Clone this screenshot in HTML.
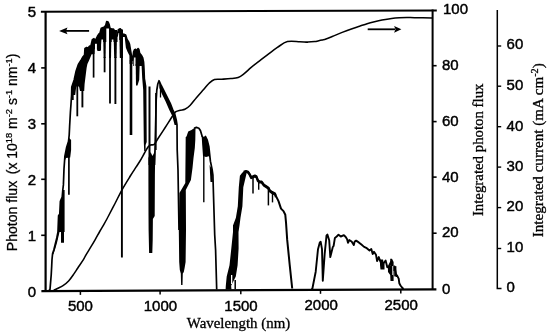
<!DOCTYPE html>
<html><head><meta charset="utf-8"><style>
html,body{margin:0;padding:0;background:#fff;width:550px;height:334px;overflow:hidden}
svg{display:block}
</style></head><body>
<svg width="550" height="334" viewBox="0 0 550 334">
<rect width="550" height="334" fill="#fff"/>
<g stroke="#000" fill="none">
<path d="M40.9,11.7 L436.8,10.4" stroke-width="2"/>
<path d="M45.6,11.7 L45.6,291.9" stroke-width="2.2"/>
<path d="M41.4,291.1 L436.4,289.3" stroke-width="2.2"/>
<path d="M432.6,9.6 L432.6,290.1" stroke-width="2"/>
<path d="M41.2,67.9 L45.6,67.9" stroke-width="1.6"/>
<path d="M41.2,123.8 L45.6,123.8" stroke-width="1.6"/>
<path d="M41.2,179.3 L45.6,179.3" stroke-width="1.6"/>
<path d="M41.2,235.3 L45.6,235.3" stroke-width="1.6"/>
<path d="M80.4,290.9 L80.4,294.9" stroke-width="1.5"/>
<path d="M160.1,290.6 L160.1,294.6" stroke-width="1.5"/>
<path d="M240.8,290.2 L240.8,294.2" stroke-width="1.5"/>
<path d="M320.5,289.8 L320.5,293.8" stroke-width="1.5"/>
<path d="M400.8,289.4 L400.8,293.4" stroke-width="1.5"/>
<path d="M432.6,65.7 L436.6,65.7" stroke-width="1.6"/>
<path d="M432.6,121.6 L436.6,121.6" stroke-width="1.6"/>
<path d="M432.6,177.1 L436.6,177.1" stroke-width="1.6"/>
<path d="M432.6,233.2 L436.6,233.2" stroke-width="1.6"/>
<path d="M497.3,9.9 L497.3,288.6 L501.5,288.6" stroke-width="1.5"/>
<path d="M497.3,46 L501.2,46" stroke-width="1.4"/>
<path d="M497.3,86.2 L501.2,86.2" stroke-width="1.4"/>
<path d="M497.3,126.7 L501.2,126.7" stroke-width="1.4"/>
<path d="M497.3,167.1 L501.2,167.1" stroke-width="1.4"/>
<path d="M497.3,207.6 L501.2,207.6" stroke-width="1.4"/>
<path d="M497.3,248.5 L501.2,248.5" stroke-width="1.4"/>
</g>
<g font-family="Liberation Sans, Arial, sans-serif" font-size="15.4" fill="#000" stroke="#000" stroke-width="0.45">
<text x="36.2" y="17.4" text-anchor="end" textLength="8.35" lengthAdjust="spacingAndGlyphs">5</text>
<text x="36.2" y="73.3" text-anchor="end" textLength="8.35" lengthAdjust="spacingAndGlyphs">4</text>
<text x="36.2" y="129.2" text-anchor="end" textLength="8.35" lengthAdjust="spacingAndGlyphs">3</text>
<text x="36.2" y="184.7" text-anchor="end" textLength="8.35" lengthAdjust="spacingAndGlyphs">2</text>
<text x="36.2" y="240.7" text-anchor="end" textLength="8.35" lengthAdjust="spacingAndGlyphs">1</text>
<text x="36.2" y="296.9" text-anchor="end" textLength="8.35" lengthAdjust="spacingAndGlyphs">0</text>
<text x="80.4" y="311.40" text-anchor="middle" textLength="25.05" lengthAdjust="spacingAndGlyphs">500</text>
<text x="160.4" y="310.95" text-anchor="middle" textLength="33.40" lengthAdjust="spacingAndGlyphs">1000</text>
<text x="241.0" y="310.50" text-anchor="middle" textLength="33.40" lengthAdjust="spacingAndGlyphs">1500</text>
<text x="321.2" y="310.05" text-anchor="middle" textLength="33.40" lengthAdjust="spacingAndGlyphs">2000</text>
<text x="401.2" y="309.60" text-anchor="middle" textLength="33.40" lengthAdjust="spacingAndGlyphs">2500</text>
<text x="443.0" y="14.0" textLength="25.05" lengthAdjust="spacingAndGlyphs">100</text>
<text x="442.0" y="70.0" textLength="16.70" lengthAdjust="spacingAndGlyphs">80</text>
<text x="442.0" y="125.6" textLength="16.70" lengthAdjust="spacingAndGlyphs">60</text>
<text x="442.0" y="181.6" textLength="16.70" lengthAdjust="spacingAndGlyphs">40</text>
<text x="442.0" y="237.4" textLength="16.70" lengthAdjust="spacingAndGlyphs">20</text>
<text x="442.0" y="294.4" textLength="8.35" lengthAdjust="spacingAndGlyphs">0</text>
<text x="506.6" y="49.2" textLength="16.70" lengthAdjust="spacingAndGlyphs">60</text>
<text x="506.6" y="89.8" textLength="16.70" lengthAdjust="spacingAndGlyphs">50</text>
<text x="506.6" y="130.6" textLength="16.70" lengthAdjust="spacingAndGlyphs">40</text>
<text x="506.6" y="170.8" textLength="16.70" lengthAdjust="spacingAndGlyphs">30</text>
<text x="506.6" y="211.2" textLength="16.70" lengthAdjust="spacingAndGlyphs">20</text>
<text x="506.6" y="251.7" textLength="16.70" lengthAdjust="spacingAndGlyphs">10</text>
<text x="506.6" y="291.8" textLength="8.35" lengthAdjust="spacingAndGlyphs">0</text>
</g>
<text transform="translate(17.0,251.2) rotate(-90)" font-family="Liberation Sans, Arial, sans-serif" font-size="14.2" fill="#000" stroke="#000" stroke-width="0.25" textLength="70.4" lengthAdjust="spacingAndGlyphs">Photon flux</text>
<text transform="translate(17.0,174.2) rotate(-90)" font-family="Liberation Sans, Arial, sans-serif" font-size="14.2" fill="#000" stroke="#000" stroke-width="0.25" textLength="120.6" lengthAdjust="spacingAndGlyphs">(x 10<tspan font-size="9.5" dy="-5.5">18</tspan><tspan dy="5.5"> m</tspan><tspan font-size="9.5" dy="-5.5">-2</tspan><tspan dy="5.5"> s</tspan><tspan font-size="9.5" dy="-5.5">-1</tspan><tspan dy="5.5"> nm</tspan><tspan font-size="9.5" dy="-5.5">-1</tspan><tspan dy="5.5">)</tspan></text>
<text transform="translate(482.6,216.1) rotate(-90)" font-family="Liberation Serif, Times New Roman, serif" font-size="14" fill="#000" stroke="#000" stroke-width="0.3" textLength="132.6" lengthAdjust="spacingAndGlyphs">Integrated photon flux</text>
<text transform="translate(543.3,237.2) rotate(-90)" font-family="Liberation Serif, Times New Roman, serif" font-size="14" fill="#000" stroke="#000" stroke-width="0.3" textLength="173.9" lengthAdjust="spacingAndGlyphs">Integrated current (mA cm<tspan font-size="9.5" dy="-5.5">-2</tspan><tspan dy="5.5">)</tspan></text>
<text x="186.8" y="328.0" font-family="Liberation Serif, Times New Roman, serif" font-size="14.1" fill="#000" stroke="#000" stroke-width="0.3" textLength="103.4" lengthAdjust="spacingAndGlyphs">Wavelength (nm)</text>
<path d="M66,30.9 L89.1,30.9" stroke="#000" stroke-width="1.8"/>
<path d="M59.1,30.9 L67.5,27.6 L66,30.9 L67.5,34.2 Z" fill="#000"/>
<path d="M367.7,29.3 L395,29.3" stroke="#000" stroke-width="1.8"/>
<path d="M401.4,29.3 L394.1,25.9 L395.5,29.3 L394.1,32.7 Z" fill="#000"/>
<path d="M53.70,290.30 C54.32,290.00 55.85,289.27 57.40,288.50 C58.95,287.73 61.13,286.95 63.00,285.70 C64.87,284.45 66.75,283.02 68.60,281.00 C70.45,278.98 72.57,275.77 74.10,273.60 C75.63,271.43 76.25,270.32 77.80,268.00 C79.35,265.68 82.03,261.90 83.40,259.70 C84.77,257.50 84.78,256.88 86.00,254.80 C87.22,252.72 89.17,249.73 90.70,247.20 C92.23,244.67 93.70,242.22 95.20,239.60 C96.70,236.98 98.20,234.13 99.70,231.50 C101.20,228.87 103.00,225.88 104.20,223.80 C105.40,221.72 106.23,220.22 106.90,219.00 C107.57,217.78 106.85,219.08 108.20,216.50 C109.55,213.92 112.70,207.95 115.00,203.50 C117.30,199.05 119.45,194.38 122.00,189.80 C124.55,185.22 127.97,179.77 130.30,176.00 C132.63,172.23 134.38,169.70 136.00,167.20 C137.62,164.70 138.58,163.37 140.00,161.00 C141.42,158.63 143.17,155.33 144.50,153.00 C145.83,150.67 147.00,148.33 148.00,147.00 C149.00,145.67 149.47,145.45 150.50,145.00 C151.53,144.55 152.95,145.38 154.20,144.30 C155.45,143.22 156.17,141.30 158.00,138.50 C159.83,135.70 162.72,131.33 165.20,127.50 C167.68,123.67 171.12,118.13 172.90,115.50 C174.68,112.87 174.65,112.58 175.90,111.70 C177.15,110.82 178.90,110.60 180.40,110.20 C181.90,109.80 183.30,110.08 184.90,109.30 C186.50,108.52 188.08,107.43 190.00,105.50 C191.92,103.57 194.13,100.37 196.40,97.70 C198.67,95.03 201.48,91.92 203.60,89.50 C205.72,87.08 207.28,84.87 209.10,83.20 C210.92,81.53 212.38,80.17 214.50,79.50 C216.62,78.83 219.07,79.35 221.80,79.20 C224.53,79.05 228.17,78.90 230.90,78.60 C233.63,78.30 236.08,78.15 238.20,77.40 C240.32,76.65 241.48,75.72 243.60,74.10 C245.72,72.48 248.58,69.67 250.90,67.70 C253.22,65.73 254.75,64.45 257.50,62.30 C260.25,60.15 264.08,57.28 267.40,54.80 C270.72,52.32 274.07,49.60 277.40,47.40 C280.73,45.20 283.67,42.55 287.40,41.60 C291.13,40.65 296.37,41.62 299.80,41.70 C303.23,41.78 305.50,42.12 308.00,42.10 C310.50,42.08 313.13,41.80 314.80,41.60 C316.47,41.40 316.77,41.18 318.00,40.90 C319.23,40.62 320.87,40.23 322.20,39.90 C323.53,39.57 324.33,39.47 326.00,38.90 C327.67,38.33 329.50,37.58 332.20,36.50 C334.90,35.42 338.88,33.70 342.20,32.40 C345.52,31.10 349.20,29.73 352.10,28.70 C355.00,27.67 357.10,27.03 359.60,26.20 C362.10,25.37 364.62,24.45 367.10,23.70 C369.58,22.95 372.02,22.32 374.50,21.70 C376.98,21.08 379.15,20.55 382.00,20.00 C384.85,19.45 388.72,18.78 391.60,18.40 C394.48,18.02 396.75,17.85 399.30,17.70 C401.85,17.55 404.37,17.50 406.90,17.50 C409.43,17.50 410.32,17.62 414.50,17.70 C418.68,17.78 429.08,17.95 432.00,18.00" fill="none" stroke="#000" stroke-width="1.55" stroke-linejoin="round"/>
<path d="M49.0,290.5 L50.0,289.4 L51.2,275.0 L51.7,266.0 L52.0,259.5 L52.6,253.5 L53.8,250.0 L55.0,245.2 L56.8,238.0 L58.0,232.0 L58.6,215.7 L59.8,214.0 L60.4,201.4 L62.2,197.2 L62.8,190.0 L63.4,184.9 L64.0,168.7 L64.9,156.2 L66.7,147.2 L68.5,141.5 L69.2,135.0 L69.6,126.7 L70.4,112.3 L71.0,104.0 L71.6,95.0 L71.8,87.1 L74.2,80.0 L76.0,71.6 L78.4,64.4 L81.4,59.6 L82.7,57.3 L84.6,55.0 L85.0,48.4 L86.6,47.6 L88.1,48.0 L89.7,46.1 L90.8,46.8 L92.4,39.8 L94.0,38.7 L94.7,41.8 L96.3,38.7 L97.5,36.3 L99.0,34.0 L100.0,33.3 L101.3,28.3 L104.5,27.0 L105.8,25.2 L106.7,21.6 L108.1,22.0 L109.0,24.3 L109.9,28.3 L111.7,29.2 L113.5,29.2 L114.4,30.6 L115.3,36.0 L117.1,36.0 L118.4,29.7 L120.2,28.8 L121.6,30.6 L122.5,35.1 L123.8,34.2 L125.6,35.1 L127.0,39.6 L128.3,41.4 L129.4,44.0 L130.2,48.6 L131.4,55.6 L132.6,60.2 L133.3,55.0 L133.7,51.7 L134.5,49.7 L135.7,49.3 L136.5,51.3 L138.0,48.6 L138.8,49.3 L139.6,53.2 L141.5,55.6 L142.7,57.9 L143.5,61.8 L143.8,66.0 L144.2,75.0 L144.6,86.0" fill="none" stroke="#000" stroke-width="1.7" stroke-linejoin="round"/>
<path d="M62.8,190.0 L64.6,190.0 L64.6,232.0 L64.0,232.0 L64.0,242.8 L61.0,242.8 L61.0,232.0 L58.0,232.0 L58.6,215.7 L59.8,214.0 L60.4,201.4 L62.2,197.2 Z" fill="#000"/>
<path d="M58.0,231.0 L59.5,232.0 L57.2,242.0 L55.2,249.0 L53.4,254.5 L52.6,253.5 L53.8,250.0 L55.0,245.2 L56.8,238.0 Z" fill="#000"/>
<path d="M64.9,156.2 L66.7,147.2 L68.5,141.5 L69.2,138.0 L71.1,140.0 L71.1,150.0 L70.2,157.5 L66.0,158.0 L65.0,160.0 Z" fill="#000"/>
<path d="M68.9,150 L68.9,194.8" stroke="#000" stroke-width="1.7"/>
<path d="M71.6,95.0 L71.8,87.1 L74.2,80.0 L76.0,71.6 L78.4,64.4 L81.4,59.6 L82.7,57.3 L84.6,55.0 L85.0,48.4 L86.6,47.6 L88.1,48.0 L89.7,46.1 L90.8,46.8 L92.4,39.8 L94.0,38.7 L94.7,41.8 L96.3,38.7 L97.5,36.3 L99.0,34.0 L100.0,33.3 L101.3,33.0 L101.3,39.6 L100.6,51.0 L97.5,51.0 L97.0,49.5 L94.7,49.5 L94.5,54.0 L93.6,54.2 L91.6,54.2 L90.5,57.0 L88.8,61.0 L87.4,64.0 L86.6,68.0 L85.6,76.0 L84.6,84.0 L84.2,91.0 L80.0,91.0 L79.0,86.5 L78.2,86.5 L76.4,86.5 L75.8,90.0 L75.2,95.0 Z" fill="#000"/>
<rect x="95.0" y="43.8" width="1.9" height="7" fill="#fff"/>
<path d="M72.6,88 L72.6,100" stroke="#000" stroke-width="2.2"/>
<path d="M77.3,85 L77.3,116.3" stroke="#000" stroke-width="1.8"/>
<path d="M82.4,85 L82.4,107.4" stroke="#000" stroke-width="1.9"/>
<path d="M93.6,50 L93.6,77.6" stroke="#000" stroke-width="1.7"/>
<path d="M103.1,27.5 L106.0,27.5 L105.6,58 L103.6,58 Z" fill="#000"/>
<path d="M104.6,57 L104.6,72.3" stroke="#000" stroke-width="1.8"/>
<path d="M109.0,28.5 L111.5,28.5 L111.0,58 L109.0,58 Z" fill="#000"/>
<path d="M110.0,57 L110.0,103.4" stroke="#000" stroke-width="1.8"/>
<path d="M113.5,30 L117.0,30 L116.6,58 L114.2,58 Z" fill="#000"/>
<path d="M115.4,57 L115.4,104" stroke="#000" stroke-width="1.9"/>
<path d="M119.3,29.5 L123.0,29.5 L123.0,58 L119.8,58 Z" fill="#000"/>
<path d="M121.9,57 L121.9,257.5" stroke="#000" stroke-width="1.9"/>
<path d="M98.0,34 L101.3,34 L101.0,50 L98.0,50 Z" fill="#000"/>
<path d="M100.0,33.3 L101.3,28.3 L104.5,27.0 L105.8,25.2 L106.7,21.6 L108.1,22.0 L109.0,24.3 L109.9,28.3 L111.7,29.2 L113.5,29.2 L114.4,30.6 L115.3,36.0 L117.1,36.0 L118.4,29.7 L120.2,28.8 L121.6,30.6 L122.5,35.1 L123.8,34.2 L125.0,34.6 L125.0,37.0 L122.9,37.0 L122.9,40.0 L119.3,40.0 L119.3,33.0 L117.5,33.0 L117.5,42.0 L113.5,42.0 L113.5,39.6 L111.7,39.6 L111.7,42.0 L109.0,42.0 L109.0,28.5 L106.3,28.5 L106.3,42.0 L103.1,42.0 L103.1,39.6 L101.3,39.6 L100.0,40.0 Z" fill="#000"/>
<path d="M123.8,34.2 L125.6,35.1 L127.5,40.0 L129.4,43.1 L130.2,48.6 L131.4,55.6 L132.6,60.2 L132.6,64.0 L129.6,64.0 L129.4,55.6 L127.5,51.7 L125.9,47.8 L125.0,40.0 L124.7,36.0 Z" fill="#000"/>
<path d="M131.0,60 L131.0,135" stroke="#000" stroke-width="2.6"/>
<path d="M133.3,66.0 L133.3,55.0 L133.7,51.7 L134.5,49.7 L135.7,49.3 L136.5,51.3 L138.0,48.6 L138.8,49.3 L139.6,53.2 L141.5,55.6 L142.7,57.9 L143.5,61.8 L143.8,66.0 Z" fill="#000"/>
<rect x="134.1" y="57.5" width="1.4" height="9" fill="#fff"/>
<path d="M135.7,64.0 L139.7,64.0 L139.2,80.0 L137.5,85.6 L136.0,85.6 Z" fill="#000"/>
<path d="M141.5,64.0 L143.8,64.0 L144.5,76.0 L146.4,86.0 L146.7,142.0 L145.6,145.0 L145.6,151.0 L144.2,151.0 L143.8,142.0 L143.2,90.0 L142.2,78.0 Z" fill="#000"/>
<path d="M149.5,86.5 L149.5,165" stroke="#000" stroke-width="2.0"/>
<path d="M148.4,158.0 L150.5,152.0 L152.5,156.0 L154.5,152.0 L155.3,150.0 L154.9,175.0 L154.7,216.0 L152.9,219.0 L152.7,240.0 L152.3,253.0 L149.1,253.0 L148.6,230.0 L148.5,215.0 L148.4,180.0 Z" fill="#000"/>
<path d="M154.5,165.0 L155.0,150.0 L155.5,130.0 L156.2,100.0 L156.8,90.0 L157.8,84.0 L159.0,80.7 L161.2,85.5 L164.2,91.5 L167.2,97.5 L170.2,103.4 L172.5,109.4 L174.7,113.9 L176.2,119.9 L177.0,125.0 L177.2,150.0 L178.0,170.0 L178.5,200.0 L179.0,230.0" fill="none" stroke="#000" stroke-width="1.7" stroke-linejoin="round"/>
<path d="M159.0,80.7 L161.2,85.5 L164.2,91.5 L167.2,97.5 L170.2,103.4 L172.5,109.4 L174.7,113.9 L176.2,119.9 L177.0,125.0 L174.6,125.0 L172.3,116.0 L169.3,110.0 L165.6,101.5 L161.7,93.5 L159.4,88.0 Z" fill="#000"/>
<path d="M155.9,93 L155.9,150" stroke="#000" stroke-width="1.5"/>
<path d="M160.5,85 L160.5,97.5" stroke="#000" stroke-width="1.3"/>
<path d="M185.7,137.0 L186.5,136.5 L188.2,131.5 L191.5,129.9 L194.0,128.2 L195.5,128.0 L195.3,140.0 L194.8,148.0 L193.5,158.0 L192.5,168.0 L190.9,180.0 L185.8,190.0 L186.0,230.0 L185.6,262.0 L184.6,268.0 L183.8,272.0 L182.8,273.5 L182.5,285.0 L181.1,285.0 L180.8,273.5 L179.8,270.0 L179.2,262.0 L178.8,230.0 L179.4,193.0 L185.3,183.0 L185.4,170.0 L185.6,150.0 Z" fill="#000"/>
<path d="M194.0,128.2 L196.4,127.4 L198.9,128.2 L200.5,130.7 L202.2,136.5 L203.8,138.1 L205.5,136.5 L207.1,139.8 L208.8,146.4 L210.4,161.2 L212.1,169.4 L212.9,175.0 L214.7,234.8 L215.6,250.0 L216.7,289.5" fill="none" stroke="#000" stroke-width="1.7" stroke-linejoin="round"/>
<path d="M201.5,133.0 L202.2,136.5 L203.8,138.1 L205.5,136.5 L207.1,139.8 L208.8,146.4 L209.8,156.0 L206.0,157.0 L203.0,156.0 L202.2,145.0 Z" fill="#000"/>
<path d="M203.8,150 L203.8,202.3" stroke="#000" stroke-width="1.4"/>
<path d="M209.6,165.0 L212.1,169.4 L212.9,182.0 L210.5,182.0 Z" fill="#000"/>
<path d="M225.6,289.5 L225.8,285.7 L226.7,276.4 L229.5,265.3 L231.3,248.6 L233.0,232.0 L233.0,225.5 L235.9,217.8 L237.8,206.3 L238.8,187.2 L239.9,175.7 L242.0,173.0 L243.3,171.8 L246.0,171.0 L246.4,174.0 L243.3,187.2 L242.4,206.3 L240.5,217.8 L239.5,225.5 L238.5,232.0 L238.6,248.6 L237.6,265.3 L235.8,276.4 L231.1,285.7 L231.5,289.5 Z" fill="#000"/>
<rect x="231.0" y="275" width="1.3" height="9" fill="#fff"/>
<path d="M235.2,280 L235.2,289" stroke="#000" stroke-width="1.5"/>
<path d="M243.7,171.7 L246.0,171.0 L248.2,171.7 L249.7,174.0 L251.2,177.0 L252.5,176.5 L254.9,175.5 L256.4,176.2 L257.9,180.0 L259.4,181.5 L261.7,181.5 L263.9,184.5 L266.2,186.0 L268.4,187.5 L269.9,190.4 L272.2,192.0 L275.0,193.4 L276.0,196.1 L278.5,201.1 L281.0,208.6 L283.5,211.1 L285.3,214.8 L286.0,222.3 L287.2,239.9 L289.7,264.8 L292.2,288.5" fill="none" stroke="#000" stroke-width="2.0" stroke-linejoin="round"/>
<path d="M243.7,172.7 L246.0,172.0 L248.2,172.7 L249.7,175.0 L251.2,178.0 L252.5,177.5 L254.9,176.5 L256.4,177.2 L257.9,181.0 L259.4,182.5 L261.7,182.5 L263.9,185.5 L266.2,187.0 L268.4,188.5 L269.9,191.4 L272.2,193.0 L275.0,194.4 L276.0,197.1" fill="none" stroke="#000" stroke-width="2.2" stroke-linejoin="round"/>
<path d="M253,176 L253,193.4" stroke="#000" stroke-width="1.5"/>
<path d="M258.7,180 L258.7,189.7" stroke="#000" stroke-width="1.4"/>
<path d="M268.4,187 L268.4,205.4" stroke="#000" stroke-width="1.5"/>
<path d="M272.5,192 L272.5,202.4" stroke="#000" stroke-width="1.4"/>
<path d="M311.5,289.2 L312.4,288.5 L315.7,271.7 L318.0,249.2 L319.8,242.5 L320.7,241.8 L322.0,249.2 L322.8,280.7 L324.7,253.7 L326.5,235.7 L327.4,234.6 L329.2,240.2 L330.3,257.1 L332.8,247.0 L333.6,246.0 L334.9,237.9 L336.7,236.5 L338.5,234.7 L340.8,236.5 L343.9,235.2 L345.7,237.0 L347.1,239.2 L348.0,242.8 L349.3,240.1 L351.6,241.5 L353.8,245.1 L354.7,241.5 L356.1,240.6 L358.8,242.4 L361.4,244.6 L364.1,246.9 L366.8,248.2 L369.5,250.5 L371.3,249.1 L372.7,254.1 L374.0,251.8 L376.0,254.8 L377.1,261.0 L378.8,257.1 L380.0,260.5 L382.0,265.0 L384.5,262.0 L385.6,260.5 L387.3,267.3 L389.0,266.0 L391.0,262.0 L393.6,270.0 L394.5,266.5 L396.4,276.0 L397.0,275.3 L398.7,278.7 L399.3,283.2 L400.5,285.5 L402.0,287.5 L403.5,289.0" fill="none" stroke="#000" stroke-width="1.9" stroke-linejoin="round"/>
<path d="M380.0,259.4 L383.0,259.4 L383.5,262.0 L384.5,261.5 L384.5,269.6 L380.5,269.6 L380.0,265.0 Z" fill="#000"/>
<path d="M390.2,258.8 L392.0,258.8 L393.6,262.0 L393.6,281.0 L390.5,281.0 L390.2,275.0 L388.0,272.0 L387.9,266.0 L390.2,266.0 Z" fill="#000"/>
<path d="M394.2,266.2 L396.4,266.2 L396.4,276.4 L394.2,276.4 Z" fill="#000"/>
<rect x="392.3" y="266" width="0.9" height="9" fill="#fff"/>
</svg>
</body></html>
